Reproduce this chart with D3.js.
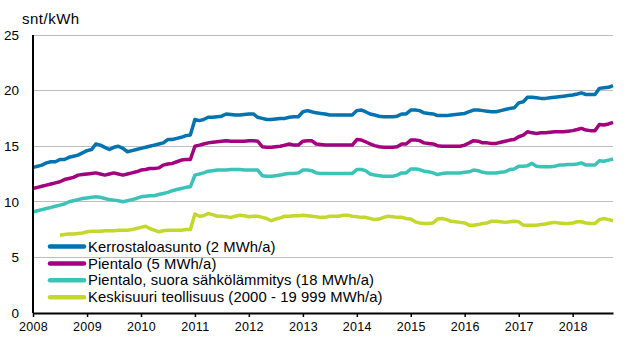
<!DOCTYPE html>
<html lang="fi">
<head>
<meta charset="UTF-8">
<title>Sähkön hinta</title>
<script src="https://cdn.jsdelivr.net/npm/d3@7"></script>
<style>
    body { margin: 0; background: #fff; }
    svg { display: block; font-family: "Liberation Sans", Arial, sans-serif; }
</style>
</head>
<body>
<div id="chart"></div>
<script>
    // kuukausittaiset hinnat, snt/kWh (tammi 2008 - loka 2018)
    var kerrostalo = [
        13.1,13.2,13.3,13.5,13.6,13.6,13.8,13.8,14.0,14.1,14.2,14.4,
        14.6,14.7,15.2,15.1,14.9,14.7,14.9,15.0,14.8,14.5,14.6,14.7,
        14.8,14.9,15.0,15.1,15.2,15.3,15.6,15.6,15.7,15.8,15.95,16.0,
        17.4,17.3,17.4,17.6,17.6,17.65,17.7,17.9,17.85,17.8,17.8,17.85,
        17.9,17.9,17.6,17.5,17.4,17.4,17.45,17.5,17.5,17.6,17.65,17.65,
        18.1,18.2,18.1,18.0,17.95,17.9,17.8,17.8,17.8,17.8,17.8,17.8,
        18.2,18.25,18.1,17.9,17.8,17.7,17.65,17.65,17.65,17.7,17.9,17.9,
        18.25,18.25,18.2,18.0,17.95,17.9,17.75,17.75,17.75,17.8,17.85,17.9,
        17.95,18.1,18.25,18.25,18.2,18.15,18.1,18.1,18.2,18.3,18.4,18.45,
        18.9,19.0,19.4,19.4,19.35,19.3,19.3,19.35,19.4,19.45,19.5,19.55,
        19.6,19.7,19.8,19.65,19.65,19.65,20.2,20.25,20.3,20.45
    ];
    var pientalo = [
        11.2,11.3,11.4,11.5,11.6,11.7,11.8,12.0,12.1,12.2,12.4,12.45,
        12.5,12.55,12.6,12.5,12.4,12.5,12.6,12.5,12.4,12.5,12.6,12.7,
        12.85,12.9,13.0,13.0,13.05,13.3,13.4,13.45,13.6,13.75,13.8,13.8,
        15.0,15.1,15.2,15.3,15.35,15.4,15.45,15.5,15.45,15.45,15.45,15.45,
        15.5,15.5,15.45,14.95,14.9,14.9,14.95,15.0,15.1,15.2,15.1,15.1,
        15.45,15.5,15.5,15.2,15.15,15.1,15.1,15.1,15.1,15.1,15.1,15.1,
        15.6,15.55,15.4,15.2,15.05,14.95,14.9,14.9,14.9,14.95,15.2,15.2,
        15.55,15.55,15.5,15.3,15.25,15.2,15.05,15.0,15.0,15.0,15.0,15.0,
        15.1,15.3,15.5,15.45,15.3,15.3,15.25,15.25,15.35,15.45,15.55,15.6,
        15.85,16.0,16.3,16.2,16.15,16.2,16.2,16.25,16.3,16.3,16.3,16.35,
        16.4,16.5,16.6,16.45,16.4,16.4,16.95,16.9,17.0,17.15
    ];
    var suora = [
        9.1,9.2,9.3,9.4,9.5,9.6,9.7,9.8,10.0,10.1,10.2,10.3,
        10.35,10.4,10.45,10.4,10.3,10.2,10.15,10.1,10.0,10.1,10.2,10.3,
        10.45,10.5,10.55,10.55,10.65,10.75,10.85,11.0,11.1,11.2,11.3,11.35,
        12.4,12.5,12.6,12.75,12.8,12.85,12.85,12.85,12.9,12.9,12.9,12.85,
        12.85,12.85,12.85,12.35,12.3,12.3,12.35,12.4,12.5,12.55,12.55,12.6,
        12.85,12.85,12.8,12.6,12.55,12.55,12.55,12.55,12.55,12.55,12.55,12.55,
        12.9,12.9,12.8,12.5,12.4,12.35,12.3,12.3,12.3,12.4,12.6,12.6,
        12.95,12.95,12.9,12.75,12.7,12.6,12.45,12.55,12.6,12.6,12.6,12.6,
        12.65,12.7,12.85,12.8,12.65,12.6,12.6,12.6,12.65,12.7,12.9,12.95,
        13.2,13.2,13.25,13.45,13.2,13.15,13.15,13.15,13.2,13.3,13.3,13.35,
        13.35,13.4,13.5,13.3,13.3,13.3,13.7,13.65,13.75,13.85
    ];
    // teollisuus alkaa heinäkuusta 2008
    var teollisuus = [
        null,null,null,null,null,null,7.0,7.05,7.1,7.1,7.15,7.2,
        7.3,7.35,7.35,7.35,7.4,7.4,7.4,7.45,7.45,7.45,7.5,7.6,
        7.7,7.8,7.6,7.45,7.3,7.4,7.45,7.45,7.45,7.45,7.5,7.5,
        8.9,8.7,8.75,8.95,8.85,8.7,8.7,8.65,8.6,8.7,8.8,8.75,
        8.65,8.7,8.7,8.6,8.5,8.3,8.45,8.55,8.7,8.7,8.75,8.75,
        8.8,8.75,8.7,8.65,8.6,8.6,8.7,8.7,8.7,8.8,8.8,8.7,
        8.65,8.6,8.6,8.5,8.4,8.45,8.6,8.7,8.65,8.6,8.6,8.5,
        8.45,8.2,8.1,8.05,8.05,8.1,8.45,8.5,8.4,8.25,8.2,8.15,
        8.1,7.9,7.9,7.95,8.05,8.1,8.25,8.25,8.2,8.15,8.2,8.25,
        8.2,7.9,7.9,7.9,7.9,7.95,8.0,8.1,8.15,8.1,8.05,8.05,
        8.1,8.2,8.2,8.1,8.05,8.05,8.4,8.5,8.4,8.3
    ];

    var sarjat = [
        {nimi: "Kerrostaloasunto (2 MWh/a)", arvot: kerrostalo, vari: "#0073b0"},
        {nimi: "Pientalo (5 MWh/a)", arvot: pientalo, vari: "#a2007e"},
        {nimi: "Pientalo, suora sähkölämmitys (18 MWh/a)", arvot: suora, vari: "#3cc3b8"},
        {nimi: "Keskisuuri teollisuus (2000 - 19 999 MWh/a)", arvot: teollisuus, vari: "#c3d72c"}
    ];
    var vuodet = d3.range(2008, 2019);
    var yTicks = [0, 5, 10, 15, 20, 25];

    var width = 636, height = 363;
    var margin = {top: 35, right: 23, bottom: 50, left: 33};

    var svg = d3.select("#chart").append("svg")
        .attr("width", width)
        .attr("height", height);

    var kuukaudet = kerrostalo.map(function(d, i) { return new Date(2008, i, 1); });

    var x = d3.scaleTime()
        .domain([kuukaudet[0], kuukaudet[kuukaudet.length - 1]])
        .range([margin.left, width - margin.right]);
    var y = d3.scaleLinear()
        .domain([0, 25])
        .range([height - margin.bottom, margin.top]);

    // ruudukko
    svg.append("g")
        .selectAll("line")
        .data(yTicks.filter(function(d) { return d > 0; }))
        .enter()
        .append("line")
        .attr("x1", margin.left)
        .attr("x2", width - margin.right)
        .attr("y1", function(d) { return y(d); })
        .attr("y2", function(d) { return y(d); })
        .attr("stroke", "#bdbdbd")
        .attr("stroke-width", 1)
        .attr("shape-rendering", "crispEdges");

    // y-akselin tekstit
    svg.append("g")
        .selectAll("text")
        .data(yTicks)
        .enter()
        .append("text")
        .attr("x", 19)
        .attr("y", function(d) { return y(d); })
        .attr("dy", "0.35em")
        .attr("text-anchor", "end")
        .attr("font-size", 13.5)
        .attr("fill", "#000")
        .text(function(d) { return d; });

    svg.append("text")
        .attr("x", 22)
        .attr("y", 24)
        .attr("font-size", 15)
        .attr("letter-spacing", 0.5)
        .attr("fill", "#000")
        .text("snt/kWh");

    // viivat
    var line = d3.line()
        .defined(function(d) { return d != null; })
        .x(function(d, i) { return x(kuukaudet[i]); })
        .y(function(d) { return y(d); });

    svg.append("g")
        .selectAll("path")
        .data(sarjat)
        .enter()
        .append("path")
        .attr("fill", "none")
        .attr("stroke", function(d) { return d.vari; })
        .attr("stroke-width", 3.5)
        .attr("stroke-linejoin", "round")
        .attr("d", function(d) { return line(d.arvot); });

    // akselit
    svg.append("line")
        .attr("x1", margin.left)
        .attr("x2", margin.left)
        .attr("y1", margin.top)
        .attr("y2", height - margin.bottom)
        .attr("stroke", "#000")
        .attr("stroke-width", 2);

    var xAxis = svg.append("g")
        .attr("transform", "translate(0," + (height - margin.bottom) + ")")
        .call(d3.axisBottom(x)
            .tickValues(vuodet.map(function(v) { return new Date(v, 0, 1); }))
            .tickSize(4)
            .tickSizeOuter(0)
            .tickFormat(d3.timeFormat("%Y")));
    xAxis.select(".domain").attr("stroke", "#000").attr("stroke-width", 2);
    xAxis.selectAll(".tick line").attr("stroke", "#000").attr("stroke-width", 1.5);
    xAxis.selectAll(".tick text")
        .attr("font-family", "Liberation Sans, Arial, sans-serif")
        .attr("font-size", 12.5)
        .attr("letter-spacing", 0.3)
        .attr("fill", "#000")
        .attr("y", 9);

    // selite
    var legend = svg.append("g")
        .selectAll("g")
        .data(sarjat)
        .enter()
        .append("g")
        .attr("transform", function(d, i) { return "translate(50," + (246.5 + i * 16.9) + ")"; });

    legend.append("line")
        .attr("x1", 0)
        .attr("x2", 34)
        .attr("stroke", function(d) { return d.vari; })
        .attr("stroke-width", 4.5)
        .attr("stroke-linecap", "round");

    legend.append("text")
        .attr("x", 38)
        .attr("dy", "0.35em")
        .attr("font-size", 14.8)
        .attr("letter-spacing", 0.1)
        .attr("fill", "#000")
        .text(function(d) { return d.nimi; });
</script>
</body>
</html>
